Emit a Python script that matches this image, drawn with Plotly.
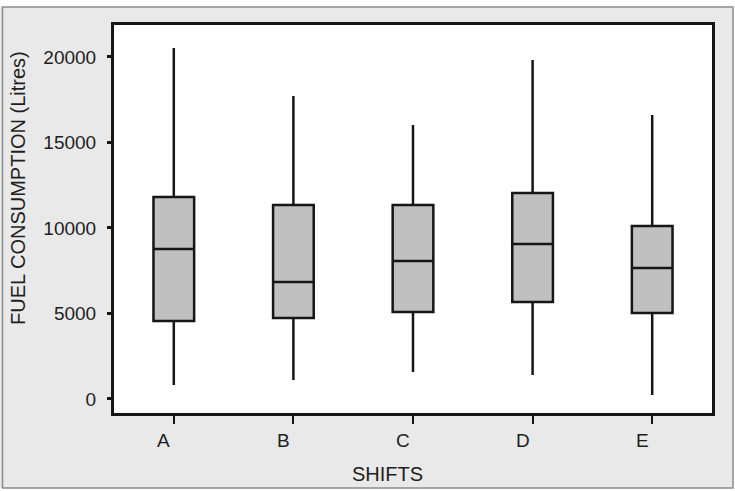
import plotly.graph_objects as go

shifts = ["A", "B", "C", "D", "E"]
lower_whisker = [820, 1110, 1580, 1400, 230]
q1_vals = [4560, 4740, 5090, 5670, 5030]
median_vals = [8770, 6840, 8070, 9060, 7660]
q3_vals = [11810, 11350, 11350, 12050, 10120]
upper_whisker = [20530, 17720, 16020, 19830, 16610]
y_ticks = [0, 5000, 10000, 15000, 20000]
y_tick_labels = ["0", "5000", "10000", "15000", "20000"]

FONT = "Liberation Sans, Arial, sans-serif"
TXT = "#1e1e1e"

fig = go.Figure()
fig.add_trace(go.Box(
    x=shifts,
    q1=q1_vals,
    median=median_vals,
    q3=q3_vals,
    lowerfence=lower_whisker,
    upperfence=upper_whisker,
    fillcolor="#c0c0c0",
    line=dict(color="#161616", width=2.5),
    whiskerwidth=0,
    width=0.34,
    boxpoints=False,
    showlegend=False,
    hoverinfo="skip",
))

W, H = 735, 491
L, R, T, B = 114, 23, 25, 78
pw, ph = W - L - R, H - T - B

def px(x):
    return (x - L) / pw

def py(y):
    return (H - B - y) / ph

shapes = [
    dict(type="rect", xref="paper", yref="paper", x0=px(0), x1=px(W), y0=py(0), y1=py(6.5),
         fillcolor="white", line=dict(width=0), layer="above"),
    dict(type="rect", xref="paper", yref="paper", x0=px(733), x1=px(W), y0=py(0), y1=py(H),
         fillcolor="white", line=dict(width=0), layer="above"),
    dict(type="rect", xref="paper", yref="paper", x0=px(0), x1=px(W), y0=py(488), y1=py(H),
         fillcolor="white", line=dict(width=0), layer="above"),
    dict(type="rect", xref="paper", yref="paper", x0=px(2.5), x1=px(733), y0=py(488), y1=py(7),
         fillcolor="rgba(0,0,0,0)", line=dict(color="#8c8c8c", width=1.5), layer="above"),
]

annotations = [
    dict(text="FUEL CONSUMPTION (Litres)", xref="paper", yref="paper",
         x=px(18), y=py(188), textangle=-90, showarrow=False,
         font=dict(family=FONT, size=20, color=TXT), xanchor="center", yanchor="middle"),
    dict(text="SHIFTS", xref="paper", yref="paper",
         x=px(387), y=py(474), showarrow=False,
         font=dict(family=FONT, size=20, color=TXT), xanchor="center", yanchor="middle"),
]
for s in shifts:
    annotations.append(dict(text=s, x=s, xref="x", yref="paper", y=py(440),
                            xshift=-10, showarrow=False,
                            font=dict(family=FONT, size=19, color=TXT),
                            xanchor="center", yanchor="middle"))

fig.update_layout(
    width=W, height=H,
    margin=dict(l=L, r=R, t=T, b=B, pad=0),
    paper_bgcolor="#e9e9e9",
    plot_bgcolor="white",
    shapes=shapes,
    annotations=annotations,
    xaxis=dict(
        type="category", range=[-0.5, 4.5],
        showline=True, linecolor="#161616", linewidth=3, mirror=True,
        ticks="outside", ticklen=8, tickwidth=2, tickcolor="#161616",
        showticklabels=False, showgrid=False, zeroline=False, fixedrange=True,
    ),
    yaxis=dict(
        range=[-820, 21870], tickvals=y_ticks, ticktext=y_tick_labels,
        showline=True, linecolor="#161616", linewidth=3, mirror=True,
        ticks="outside", ticklen=4, tickwidth=3, tickcolor="#161616",
        ticklabelstandoff=7,
        tickfont=dict(family=FONT, size=19, color=TXT),
        showgrid=False, zeroline=False, fixedrange=True,
    ),
)

fig.write_html("out.html")
